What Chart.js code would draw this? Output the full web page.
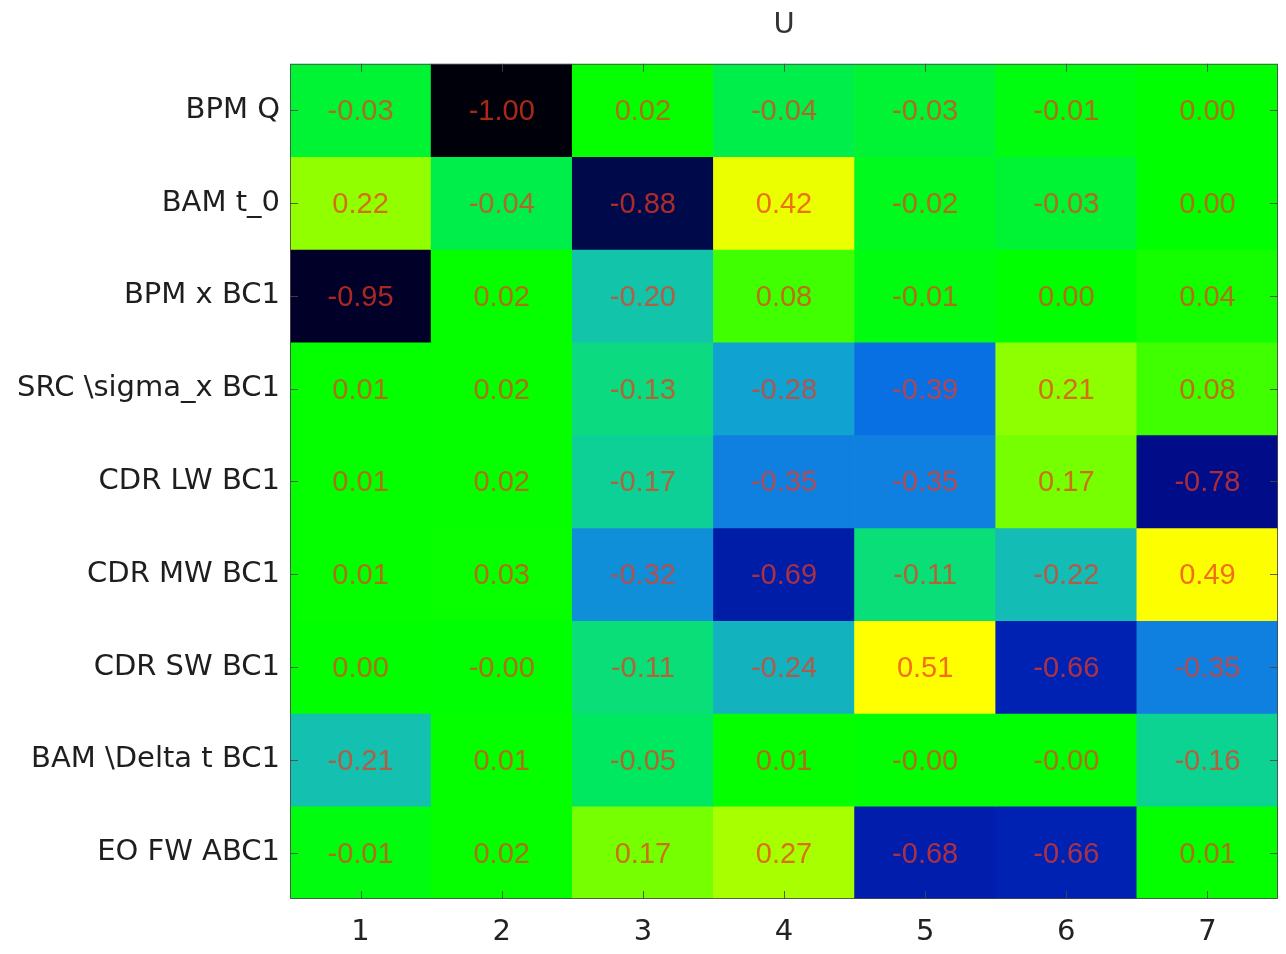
<!DOCTYPE html>
<html>
<head>
<meta charset="utf-8">
<title>U</title>
<script src="https://cdn.jsdelivr.net/npm/chart.js@4/dist/chart.umd.min.js"></script>
<style>
  html, body { margin: 0; padding: 0; background: #ffffff; }
  #wrap { width: 1286px; height: 954px; }
</style>
</head>
<body>
<div id="wrap"><canvas id="c" width="1286" height="954"></canvas></div>
<script>
// Column (mode) labels along the bottom
const modeLabels = ['1', '2', '3', '4', '5', '6', '7'];

// Row (diagnostic) labels, top to bottom
const signalLabels = [
  'BPM Q',
  'BAM t_0',
  'BPM x BC1',
  'SRC \\sigma_x BC1',
  'CDR LW BC1',
  'CDR MW BC1',
  'CDR SW BC1',
  'BAM \\Delta t BC1',
  'EO FW ABC1'
];

// Matrix entries, one array per row
const rowBpmQ      = [-0.03, -1.00,  0.02, -0.04, -0.03, -0.01,  0.00];
const rowBamT0     = [ 0.22, -0.04, -0.88,  0.42, -0.02, -0.03,  0.00];
const rowBpmX      = [-0.95,  0.02, -0.20,  0.08, -0.01,  0.00,  0.04];
const rowSrcSigma  = [ 0.01,  0.02, -0.13, -0.28, -0.39,  0.21,  0.08];
const rowCdrLw     = [ 0.01,  0.02, -0.17, -0.35, -0.35,  0.17, -0.78];
const rowCdrMw     = [ 0.01,  0.03, -0.32, -0.69, -0.11, -0.22,  0.49];
const rowCdrSw     = [ 0.00, -0.002, -0.11, -0.24, 0.51, -0.66, -0.35];
const rowBamDelta  = [-0.21,  0.01, -0.05,  0.01, -0.002, -0.002, -0.16];
const rowEoFw      = [-0.01,  0.02,  0.17,  0.27, -0.68, -0.66,  0.01];

const matrixRows = [rowBpmQ, rowBamT0, rowBpmX, rowSrcSigma, rowCdrLw,
                    rowCdrMw, rowCdrSw, rowBamDelta, rowEoFw];

// Colour map: black -> navy -> blue -> cyan -> green -> yellow
const colourStops = [
  [-1.00, [0, 0, 10]],
  [-0.95, [0, 0, 40]],
  [-0.88, [0, 10, 74]],
  [-0.78, [0, 12, 136]],
  [-0.66, [0, 34, 178]],
  [-0.39, [8, 112, 226]],
  [-0.35, [16, 128, 224]],
  [-0.28, [16, 162, 208]],
  [-0.21, [20, 192, 176]],
  [-0.17, [12, 208, 150]],
  [-0.13, [12, 218, 128]],
  [-0.05, [0, 232, 96]],
  [-0.02, [0, 250, 30]],
  [ 0.00, [0, 255, 0]],
  [ 0.03, [8, 255, 0]],
  [ 0.08, [64, 255, 0]],
  [ 0.20, [136, 255, 0]],
  [ 0.27, [168, 255, 0]],
  [ 0.42, [236, 255, 0]],
  [ 0.50, [255, 255, 0]]
];

function colourFor(v) {
  if (v <= colourStops[0][0]) return 'rgb(' + colourStops[0][1].join(',') + ')';
  for (let k = 1; k < colourStops.length; k++) {
    const [v1, c1] = colourStops[k];
    if (v <= v1) {
      const [v0, c0] = colourStops[k - 1];
      const t = (v - v0) / (v1 - v0);
      const c = c0.map((a, n) => Math.round(a + (c1[n] - a) * t));
      return 'rgb(' + c.join(',') + ')';
    }
  }
  const last = colourStops[colourStops.length - 1][1];
  return 'rgb(' + last.join(',') + ')';
}

// One floating-bar dataset per row; each bar spans its row band on the y scale
const datasets = matrixRows.map((vals, i) => ({
  label: signalLabels[i],
  data: vals.map(() => [i - 0.5, i + 0.5]),
  backgroundColor: vals.map(colourFor),
  borderWidth: 0,
  barPercentage: 1.0,
  categoryPercentage: 1.0,
  grouped: false
}));

// Cell value text
const cellValuePlugin = {
  id: 'cellValues',
  afterDatasetsDraw(chart) {
    const ctx = chart.ctx;
    ctx.save();
    ctx.font = '29px "Liberation Sans", Arial, sans-serif';
    ctx.textAlign = 'center';
    ctx.textBaseline = 'middle';
    ctx.fillStyle = 'rgba(238, 56, 28, 0.72)';
    chart.data.datasets.forEach((ds, i) => {
      const meta = chart.getDatasetMeta(i);
      meta.data.forEach((el, j) => {
        const p = el.getCenterPoint();
        ctx.fillText(matrixRows[i][j].toFixed(2), p.x, p.y + 2);
      });
    });
    ctx.restore();
  }
};

// Axes box with inward tick marks
const axesBoxPlugin = {
  id: 'axesBox',
  afterDraw(chart) {
    const { ctx, chartArea: a, scales } = chart;
    ctx.save();
    ctx.strokeStyle = 'rgba(70, 70, 70, 0.85)';
    ctx.lineWidth = 1;
    ctx.strokeRect(a.left + 0.5, a.top + 0.5, a.right - a.left - 1, a.bottom - a.top - 1);
    const len = 8;
    ctx.beginPath();
    modeLabels.forEach((_, j) => {
      const x = Math.round(scales.x.getPixelForValue(j)) + 0.5;
      ctx.moveTo(x, a.bottom); ctx.lineTo(x, a.bottom - len);
      ctx.moveTo(x, a.top); ctx.lineTo(x, a.top + len);
    });
    signalLabels.forEach((_, i) => {
      const y = Math.round(scales.y.getPixelForValue(i)) + 0.5;
      ctx.moveTo(a.left, y); ctx.lineTo(a.left + len, y);
      ctx.moveTo(a.right, y); ctx.lineTo(a.right - len, y);
    });
    ctx.stroke();
    ctx.restore();
  }
};

new Chart(document.getElementById('c'), {
  type: 'bar',
  data: { labels: modeLabels, datasets },
  plugins: [cellValuePlugin, axesBoxPlugin],
  options: {
    responsive: false,
    animation: false,
    layout: { padding: { top: 8, right: 8, bottom: 0, left: 0 } },
    plugins: {
      legend: { display: false },
      tooltip: { enabled: false },
      title: {
        display: true,
        fullSize: false,
        text: 'U',
        color: '#333333',
        font: { family: '"DejaVu Sans", sans-serif', size: 29, weight: 'normal', lineHeight: 1.2 },
        padding: { top: 0, bottom: 21 }
      }
    },
    scales: {
      x: {
        type: 'category',
        offset: true,
        grid: { display: false, drawTicks: false },
        border: { display: false },
        afterFit(scale) { scale.height = 55; },
        ticks: {
          color: '#222222',
          padding: 16,
          font: { family: '"DejaVu Sans", sans-serif', size: 29 }
        }
      },
      y: {
        type: 'linear',
        min: -0.5,
        max: 8.5,
        reverse: true,
        grid: { display: false, drawTicks: false },
        border: { display: false },
        afterBuildTicks(scale) {
          scale.ticks = signalLabels.map((_, i) => ({ value: i }));
        },
        afterFit(scale) { scale.width = 290; },
        ticks: {
          autoSkip: false,
          color: '#1e1e1e',
          padding: 10,
          font: { family: '"DejaVu Sans", sans-serif', size: 29 },
          callback: (value, index) => signalLabels[index]
        }
      }
    }
  }
});
</script>
</body>
</html>
